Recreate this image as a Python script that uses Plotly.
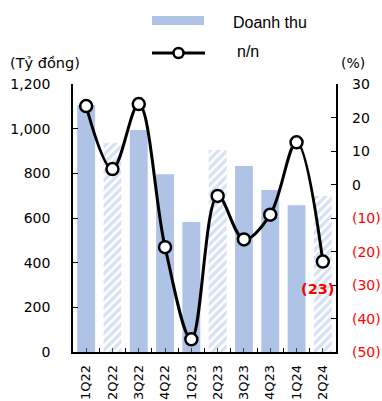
import plotly.graph_objects as go

# Quarterly revenue (bn VND) and year-on-year change (%)
quarters = ["1Q22", "2Q22", "3Q22", "4Q22", "1Q23", "2Q23", "3Q23", "4Q23", "1Q24", "2Q24"]
revenue = [1105, 937, 994, 796, 582, 905, 833, 725, 657, 699]
yoy = [23.4, 4.6, 24.0, -18.7, -46.2, -3.4, -16.4, -9.0, 12.6, -23.0]

left_ticks = [0, 200, 400, 600, 800, 1000, 1200]
right_ticks = [-50, -40, -30, -20, -10, 0, 10, 20, 30]

W, H = 382, 401
ML, MR, MT, MB = 73, 46, 84, 49
PW, PH = W - ML - MR, H - MT - MB

BLUE = "#AEC3E6"
RED = "#FF0000"
FONT = "DejaVu Sans"


def px_x(p):
    return (p - ML) / PW


def px_y(p):
    return (H - MB - p) / PH


def fmt_pct(v):
    if v < 0:
        return f"({abs(v):.0f})"
    return f"{v:.0f}"


xpos = list(range(len(quarters)))
# second quarters are shown with a hatched fill
is_hatched = [q.startswith("2Q") for q in quarters]
solid_x = [x for x, h in zip(xpos, is_hatched) if not h]
solid_y = [v for v, h in zip(revenue, is_hatched) if not h]
hatch_x = [x for x, h in zip(xpos, is_hatched) if h]
hatch_y = [v for v, h in zip(revenue, is_hatched) if h]

fig = go.Figure()
fig.add_trace(go.Bar(
    x=solid_x, y=solid_y, name="Doanh thu", width=0.68,
    marker=dict(color=BLUE, line=dict(width=0)),
    showlegend=False,
))
fig.add_trace(go.Bar(
    x=hatch_x, y=hatch_y, name="Doanh thu", width=0.68,
    marker=dict(color="white", line=dict(width=0),
                pattern=dict(shape="/", fgcolor=BLUE, bgcolor="white",
                             size=6, solidity=0.55)),
    showlegend=False,
))
fig.add_trace(go.Scatter(
    x=xpos, y=yoy, name="n/n", yaxis="y2", mode="lines+markers",
    line=dict(color="black", width=3, shape="spline", smoothing=1),
    marker=dict(size=12, color="white", line=dict(color="black", width=2.5)),
    showlegend=False, cliponaxis=False,
))

last = yoy[-1]
annotations = [
    dict(x=xpos[-1], y=last, xref="x", yref="y2", text=f"<b>({abs(last):.0f})</b>",
         showarrow=False, yshift=-27, xshift=-5,
         font=dict(family=FONT, size=14.5, color=RED)),
    dict(x=px_x(45), y=px_y(63), xref="paper", yref="paper", text="(Tỷ đồng)",
         showarrow=False, xanchor="center", yanchor="middle",
         font=dict(family=FONT, size=14.5, color="black")),
    dict(x=px_x(353), y=px_y(63), xref="paper", yref="paper", text="(%)",
         showarrow=False, xanchor="center", yanchor="middle",
         font=dict(family=FONT, size=14, color="black")),
    dict(x=px_x(231), y=px_y(22), xref="paper", yref="paper", text="Doanh thu",
         showarrow=False, xanchor="left", yanchor="middle",
         font=dict(family="Liberation Sans", size=16, color="black")),
    dict(x=px_x(235), y=px_y(51), xref="paper", yref="paper", text="n/n",
         showarrow=False, xanchor="left", yanchor="middle",
         font=dict(family="Liberation Sans", size=16, color="black")),
]
# right-axis tick labels, left-aligned, negatives in red parentheses
for v in right_ticks:
    annotations.append(dict(
        x=1, xref="paper", y=v, yref="y2", text=fmt_pct(v),
        showarrow=False, xanchor="left", yanchor="middle", xshift=14,
        font=dict(family=FONT, size=14, color=RED if v < 0 else "black"),
    ))

shapes = [
    dict(type="rect", xref="paper", yref="paper",
         x0=px_x(152), x1=px_x(204), y0=px_y(25), y1=px_y(16),
         fillcolor=BLUE, line=dict(width=0)),
    dict(type="line", xref="paper", yref="paper",
         x0=px_x(152), x1=px_x(205), y0=px_y(53), y1=px_y(53),
         line=dict(color="black", width=3)),
    dict(type="circle", xref="paper", yref="paper",
         x0=px_x(173.5), x1=px_x(183.5), y0=px_y(58), y1=px_y(48),
         fillcolor="white", line=dict(color="black", width=2.5)),
]

fig.update_layout(
    width=W, height=H,
    margin=dict(l=ML, r=MR, t=MT, b=MB, pad=0, autoexpand=False),
    paper_bgcolor="white", plot_bgcolor="white",
    font=dict(family=FONT, size=14, color="black"),
    barmode="overlay",
    xaxis=dict(
        range=[-0.5, len(quarters) - 0.5], tickvals=xpos, ticktext=quarters,
        tickangle=-90, ticks="inside", ticklen=4, tickcolor="#444",
        tickfont=dict(family=FONT, size=13, color="black"),
        minor=dict(ticks="inside", tick0=-0.5, dtick=1, ticklen=4, tickcolor="black"),
        showline=True, linecolor="black", linewidth=1.5, showgrid=False,
        zeroline=False, ticklabelstandoff=6, automargin=False,
    ),
    yaxis=dict(
        range=[0, 1200], tickvals=left_ticks,
        ticktext=[f"{v:,}" for v in left_ticks],
        ticks="inside", ticklen=5, tickcolor="black",
        showline=True, linecolor="black", linewidth=1.5,
        showgrid=False, zeroline=False, ticklabelstandoff=18, automargin=False,
    ),
    yaxis2=dict(
        range=[-50, 30], overlaying="y", side="right",
        tickvals=right_ticks, showticklabels=False,
        ticks="inside", ticklen=5, tickcolor="black",
        showline=True, linecolor="black", linewidth=1.5,
        showgrid=False, zeroline=False, automargin=False,
    ),
    annotations=annotations,
    shapes=shapes,
)

fig.write_html("out.html")
